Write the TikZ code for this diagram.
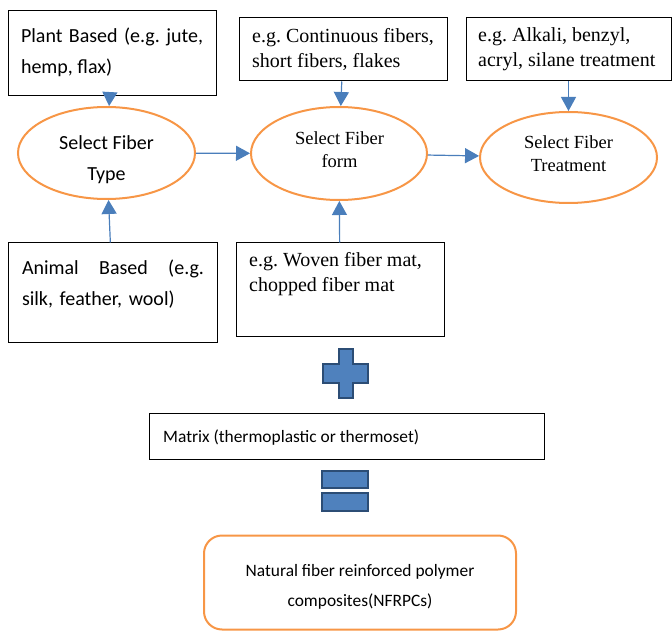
\documentclass[tikz,border=0pt]{standalone}
\usepackage{fontspec}
\setmainfont{Liberation Serif}
\setsansfont{Carlito}
\usetikzlibrary{shapes.geometric,arrows.meta}
\frenchspacing

\definecolor{linkblue}{HTML}{4A7EBB}
\definecolor{signblue}{HTML}{4F81BD}
\definecolor{signedge}{HTML}{2C4D75}
\definecolor{ringorange}{HTML}{F79646}

\tikzset{
  box/.style={draw=black, line width=1pt, rectangle, inner sep=0pt},
  ring/.style={draw=ringorange, line width=2pt, ellipse, inner sep=0pt},
  link/.style={draw=linkblue, line width=1.2pt, -{Triangle[width=15pt,length=14pt]}},
  sign/.style={fill=signblue, draw=signedge, line width=1.5pt},
  sanstext/.style={font=\sffamily\fontsize{20}{31}\selectfont, inner sep=0pt},
  seriftext/.style={font=\rmfamily\fontsize{20}{25}\selectfont, inner sep=0pt, align=left, anchor=west},
  ringtext/.style={font=\rmfamily\fontsize{18.5}{23}\selectfont, inner sep=0pt, align=center},
  smalltext/.style={font=\sffamily\fontsize{17.4}{30}\selectfont, inner sep=0pt}
}

\begin{document}
  \begin{tikzpicture}[x=1pt,y=-1pt]
    \useasboundingbox (0,0) rectangle (672,631);

    % fibre choices
    \node [box, minimum width=208pt, minimum height=85pt] (plant) at (112,53.5) {};
    \node [box, minimum width=208pt, minimum height=63pt] (continuous) at (343,49.5) {};
    \node [box, minimum width=205pt, minimum height=63pt] (alkali) at (568.5,49.5) {};
    \node [box, minimum width=209pt, minimum height=99pt] (animal) at (112.5,292.5) {};
    \node [box, minimum width=208pt, minimum height=93pt] (woven) at (340,289.5) {};

    \node [sanstext, text width=182pt, align=justify] (planttext) at (112,52)
      {Plant Based (e.g. jute, hemp, flax)};
    \node [seriftext] (continuoustext) at (252,49.5)
      {e.g. Continuous fibers,\\short fibers, flakes};
    \node [seriftext] (alkalitext) at (478,49.5)
      {e.g. Alkali, benzyl,\\acryl, silane treatment};
    \node [sanstext, text width=182pt, align=left] (animaltext) at (113,284)
      {Animal\hfill Based\hfill (e.g.\\silk, feather, wool)};
    \node [seriftext] (woventext) at (249,274)
      {e.g. Woven fiber mat,\\chopped fiber mat};

    % selection steps
    \node [ring, minimum width=177pt, minimum height=92pt] (type) at (106.5,153) {};
    \node [ring, minimum width=176pt, minimum height=93pt] (form) at (339,153.5) {};
    \node [ring, minimum width=177pt, minimum height=91pt] (treatment) at (568.5,157.5) {};

    \node [sanstext, align=center] (typetext) at (106.5,159.5) {Select Fiber\\Type};
    \node [ringtext] (formtext) at (339.5,150) {Select Fiber\\form};
    \node [ringtext] (treatmenttext) at (568.5,154) {Select Fiber\\Treatment};

    \draw [link] (plant) -- (type);
    \draw [link] (animal) -- (type);
    \draw [link] (continuous) -- (form);
    \draw [link] (woven) -- (form);
    \draw [link] (alkali) -- (treatment);
    \draw [link] (type) -- (form);
    \draw [link] (form) -- (treatment);

    % plus sign
    \draw [sign] (339,349) -- (353,349) -- (353,364) -- (368,364) -- (368,383)
      -- (353,383) -- (353,398) -- (339,398) -- (339,383) -- (323,383)
      -- (323,364) -- (339,364) -- cycle;

    \node [box, minimum width=395pt, minimum height=46pt] (matrix) at (346.5,436) {};
    \node [smalltext, anchor=west] (matrixtext) at (163,438)
      {Matrix (thermoplastic or thermoset)};

    % equals sign
    \draw [sign] (322,471) rectangle (368,488);
    \draw [sign] (322,493) rectangle (368,511);

    \node [box, draw=ringorange, line width=2pt, rounded corners=18pt,
      minimum width=312pt, minimum height=94pt] (nfrpc) at (360,582.5) {};
    \node [smalltext, align=center] (nfrpctext) at (360,587)
      {Natural fiber reinforced polymer\\composites(NFRPCs)};
  \end{tikzpicture}
\end{document}
